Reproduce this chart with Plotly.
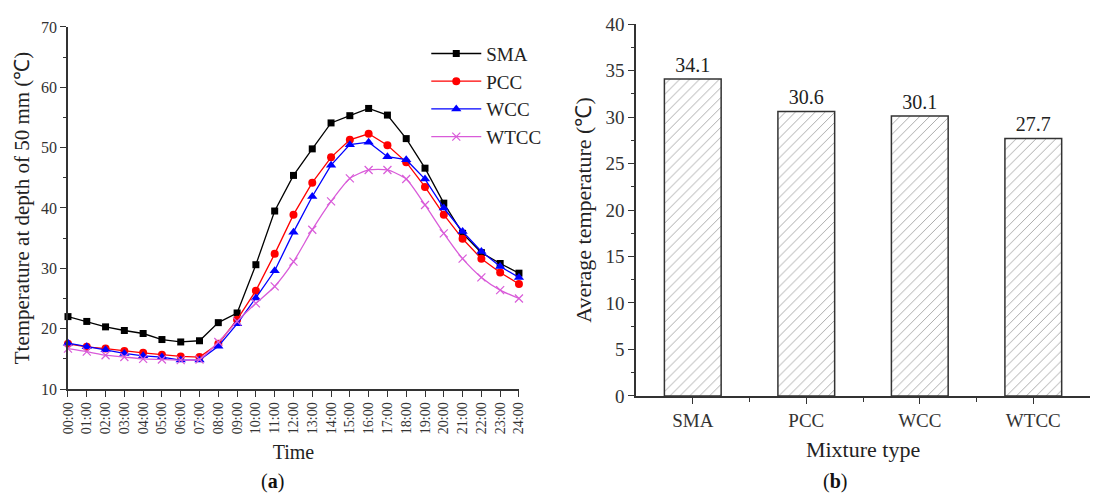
import plotly.graph_objects as go

times = ["00:00", "01:00", "02:00", "03:00", "04:00", "05:00", "06:00", "07:00", "08:00",
         "09:00", "10:00", "11:00", "12:00", "13:00", "14:00", "15:00", "16:00", "17:00",
         "18:00", "19:00", "20:00", "21:00", "22:00", "23:00", "24:00"]
sma = [22.0, 21.2, 20.3, 19.7, 19.2, 18.2, 17.8, 18.0, 21.0, 22.6, 30.6, 39.5, 45.4, 49.8,
       54.1, 55.3, 56.5, 55.4, 51.5, 46.6, 40.8, 35.8, 32.6, 30.8, 29.2]
pcc = [17.5, 17.0, 16.7, 16.3, 16.0, 15.7, 15.4, 15.3, 17.5, 21.5, 26.3, 32.4, 38.9, 44.2,
       48.4, 51.3, 52.3, 50.4, 47.6, 43.5, 38.9, 34.9, 31.6, 29.3, 27.4]
wcc = [17.6, 17.0, 16.5, 15.9, 15.5, 15.3, 14.8, 14.8, 17.1, 20.8, 25.1, 29.6, 36.0, 41.9,
       47.1, 50.5, 50.9, 48.5, 48.0, 44.8, 40.0, 36.1, 32.8, 30.3, 28.5]
wtcc = [16.7, 16.2, 15.6, 15.3, 15.0, 14.9, 14.8, 14.9, 17.8, 21.2, 24.2, 27.0, 31.1, 36.4,
        41.1, 44.9, 46.3, 46.3, 44.8, 40.5, 35.8, 31.6, 28.5, 26.4, 25.0]

mixtures = ["SMA", "PCC", "WCC", "WTCC"]
avg_temp = [34.1, 30.6, 30.1, 27.7]

FONT = "Liberation Serif"
AX = "#333333"
hours = list(range(len(times)))

fig = go.Figure()

series = [
    ("SMA", sma, "black", dict(symbol="square", size=7)),
    ("PCC", pcc, "red", dict(symbol="circle", size=8)),
    ("WCC", wcc, "blue", dict(symbol="triangle-up", size=9)),
    ("WTCC", wtcc, "#d95bd9", dict(symbol="x-thin", size=8, line=dict(width=1.2, color="#d95bd9"))),
]
for name, vals, col, mk in series:
    fig.add_trace(go.Scatter(
        x=hours, y=vals, name=name, mode="lines+markers",
        line=dict(color=col, width=1.3, shape="spline" if name == "WTCC" else "linear", smoothing=0.6),
        marker=dict(color=col, **mk), cliponaxis=False,
        xaxis="x", yaxis="y"))

fig.add_trace(go.Bar(
    x=list(range(len(mixtures))), y=avg_temp, width=0.5, showlegend=False,
    marker=dict(color="white", line=dict(color="#333333", width=1.5),
                pattern=dict(shape="/", fgcolor="#3a3a3a", bgcolor="white", size=7, solidity=0.12)),
    text=[f"{v:.1f}" for v in avg_temp], textposition="outside", cliponaxis=False,
    textfont=dict(family=FONT, size=20, color="#222"),
    xaxis="x2", yaxis="y2"))

base = dict(showline=True, linecolor=AX, linewidth=1.5, ticks="outside", automargin=False,
            tickcolor=AX, tickwidth=1.3, showgrid=False, zeroline=False)

fig.update_layout(
    width=1093, height=495, margin=dict(l=0, r=0, t=0, b=0, autoexpand=False),
    plot_bgcolor="white", paper_bgcolor="white",
    font=dict(family=FONT, color="#222"),
    xaxis=dict(domain=[0.0622, 0.4748], range=[0, 24], tickvals=hours, ticktext=times,
               tickangle=-90, ticklen=6,
               title=dict(text="Time", font=dict(size=20, family=FONT), standoff=12),
               tickfont=dict(family=FONT, size=14, color="#333"), **base),
    yaxis=dict(domain=[0.2141, 0.9455], range=[10, 70], dtick=10, ticklen=6,
               minor=dict(dtick=5, ticklen=3, tickcolor=AX, ticks="outside"),
               title=dict(text="Ttemperature at depth of 50 mm (℃)", font=dict(size=21, family=FONT), standoff=6),
               tickfont=dict(family=FONT, size=16, color="#333"), **base),
    xaxis2=dict(domain=[0.5819, 0.9973], range=[-0.5, 3.5], tickvals=list(range(4)), ticktext=mixtures,
                ticklen=6, minor=dict(tickvals=[0.5, 1.5, 2.5], ticklen=4, tickcolor=AX, ticks="outside"),
                title=dict(text="Mixture type", font=dict(size=22, family=FONT), standoff=12),
                anchor="y2", tickfont=dict(family=FONT, size=19, color="#333"), **base),
    yaxis2=dict(domain=[0.2, 0.9515], range=[0, 40], dtick=5, ticklen=6, anchor="x2",
                minor=dict(dtick=2.5, ticklen=3, tickcolor=AX, ticks="outside"),
                title=dict(text="Average temperature (℃)", font=dict(size=22, family=FONT), standoff=8),
                tickfont=dict(family=FONT, size=19, color="#333"), **base),
    legend=dict(x=0.39, y=0.93, xanchor="left", yanchor="top", bgcolor="rgba(0,0,0,0)",
                font=dict(family=FONT, size=19, color="#222"), tracegroupgap=0, itemwidth=50),
    annotations=[
        dict(text="(<b>a</b>)", x=0.249, y=0.0, xref="paper", yref="paper", xanchor="center",
             yanchor="bottom", showarrow=False, font=dict(family=FONT, size=20, color="#111")),
        dict(text="(<b>b</b>)", x=0.764, y=0.0, xref="paper", yref="paper", xanchor="center",
             yanchor="bottom", showarrow=False, font=dict(family=FONT, size=20, color="#111")),
    ],
)

fig.write_html("out.html")
